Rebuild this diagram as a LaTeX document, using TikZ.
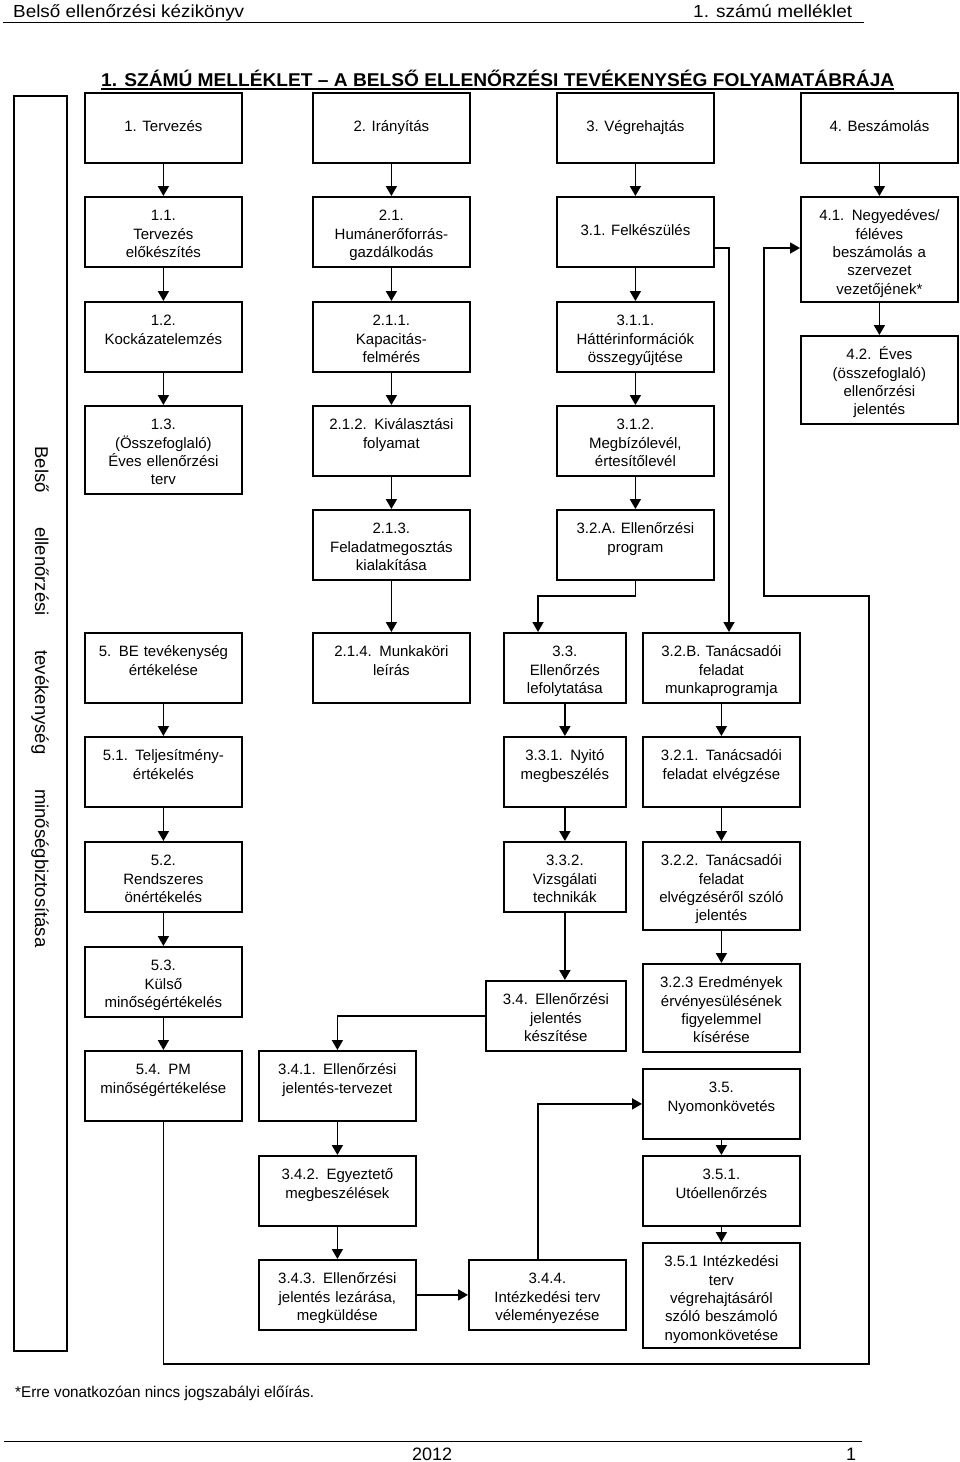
\documentclass[tikz,border=0pt]{standalone}
\usepackage{fontspec}
\setmainfont{Liberation Sans}
\usepackage{graphicx}
\usetikzlibrary{arrows.meta}

\tikzset{
  stepbox/.style={draw, line width=1.8pt, anchor=north west, inner sep=0pt,
    minimum width=157pt, text width=150pt, align=center,
    text height=24pt, text depth=46pt, font=\fontsize{15pt}{18.3pt}\selectfont},
  headbox/.style={draw, line width=1.8pt, anchor=north west, inner sep=0pt,
    minimum width=157pt, minimum height=70pt, text height=11pt, text depth=3pt,
    font=\fontsize{15pt}{18.3pt}\selectfont},
  tall/.style={text depth=64pt},
  taller/.style={text depth=81pt},
  narrow/.style={minimum width=122pt, text width=116pt},
  mid/.style={minimum width=140pt, text width=134pt},
  flow/.style={line width=1.8pt, -{Triangle[length=10pt,width=11pt]}},
  plain/.style={anchor=base west, inner sep=0pt},
}

\begin{document}
\begin{tikzpicture}[x=1pt, y=-1pt]
  \useasboundingbox (0,0) rectangle (960,1462);
  \node[plain] (hdl) at (13,17) {\resizebox{231pt}{\height}{\fontsize{17.5pt}{20pt}\selectfont Belső ellenőrzési kézikönyv}};
  \node[plain] (hdr) at (693,17) {\resizebox{159pt}{\height}{\fontsize{17.5pt}{20pt}\selectfont 1. számú melléklet}};
  \draw[line width=1pt] (3,22) -- (864,22);
  \node[plain] (title) at (101,86) {\resizebox{793pt}{\height}{\fontsize{18.5pt}{20pt}\selectfont\bfseries 1. SZÁMÚ MELLÉKLET – A BELSŐ ELLENŐRZÉSI TEVÉKENYSÉG FOLYAMATÁBRÁJA}};
  \draw[line width=1.3pt] ([yshift=-2.5pt]title.south west) -- ([yshift=-2.5pt]title.south east);

  \draw[line width=1.8pt] (14,96) rectangle (67,1351);
  \node[rotate=-90, inner sep=0pt, font=\fontsize{18.5pt}{20pt}\selectfont] (side) at (40,697)
    {\makebox[501pt][s]{Belső ellenőrzési tevékenység minőségbiztosítása}};

  \node[headbox] (1) at (84,92) {1. Tervezés};
  \node[headbox] (2) at (312,92) {2. Irányítás};
  \node[headbox] (3) at (556,92) {3. Végrehajtás};
  \node[headbox] (4) at (800,92) {4. Beszámolás};

  \node[stepbox] (11) at (84,196) {1.1.\\Tervezés\\előkészítés};
  \node[stepbox] (21) at (312,196) {2.1.\\Humánerőforrás-\\gazdálkodás};
  \node[headbox] (31) at (556,196) {3.1. Felkészülés};
  \node[stepbox, taller] (41) at (800,196) {4.1. Negyedéves/\\féléves\\beszámolás a\\szervezet\\vezetőjének*};

  \node[stepbox] (12) at (84,301) {1.2.\\Kockázatelemzés};
  \node[stepbox] (211) at (312,301) {2.1.1.\\Kapacitás-\\felmérés};
  \node[stepbox] (311) at (556,301) {3.1.1.\\Háttérinformációk\\összegyűjtése};
  \node[stepbox, tall] (42) at (800,335) {4.2. Éves\\(összefoglaló)\\ellenőrzési\\jelentés};

  \node[stepbox, tall] (13) at (84,405) {1.3.\\(Összefoglaló)\\Éves ellenőrzési\\terv};
  \node[stepbox] (212) at (312,405) {2.1.2. Kiválasztási\\folyamat};
  \node[stepbox] (312) at (556,405) {3.1.2.\\Megbízólevél,\\értesítőlevél};

  \node[stepbox] (213) at (312,509) {2.1.3.\\Feladatmegosztás\\kialakítása};
  \node[stepbox] (32A) at (556,509) {3.2.A. Ellenőrzési\\program};

  \node[stepbox] (5) at (84,632) {5. BE tevékenység\\értékelése};
  \node[stepbox] (214) at (312,632) {2.1.4. Munkaköri\\leírás};
  \node[stepbox, narrow] (33) at (503,632) {3.3.\\Ellenőrzés\\lefolytatása};
  \node[stepbox] (32B) at (642,632) {3.2.B. Tanácsadói\\feladat\\munkaprogramja};

  \node[stepbox] (51) at (84,736) {5.1. Teljesítmény-\\értékelés};
  \node[stepbox, narrow] (331) at (503,736) {3.3.1. Nyitó\\megbeszélés};
  \node[stepbox] (321) at (642,736) {3.2.1. Tanácsadói\\feladat elvégzése};

  \node[stepbox] (52) at (84,841) {5.2.\\Rendszeres\\önértékelés};
  \node[stepbox, narrow] (332) at (503,841) {3.3.2.\\Vizsgálati\\technikák};
  \node[stepbox, tall] (322) at (642,841) {3.2.2. Tanácsadói\\feladat\\elvégzéséről szóló\\jelentés};

  \node[stepbox] (53) at (84,946) {5.3.\\Külső\\minőségértékelés};
  \node[stepbox, mid] (34) at (485,980) {3.4. Ellenőrzési\\jelentés\\készítése};
  \node[stepbox, tall] (323) at (642,963) {3.2.3 Eredmények\\érvényesülésének\\figyelemmel\\kísérése};

  \node[stepbox] (54) at (84,1050) {5.4. PM\\minőségértékelése};
  \node[stepbox] (341) at (258,1050) {3.4.1. Ellenőrzési\\jelentés-tervezet};
  \node[stepbox] (35) at (642,1068) {3.5.\\Nyomonkövetés};

  \node[stepbox] (342) at (258,1155) {3.4.2. Egyeztető\\megbeszélések};
  \node[stepbox] (351) at (642,1155) {3.5.1.\\Utóellenőrzés};

  \node[stepbox] (343) at (258,1259) {3.4.3. Ellenőrzési\\jelentés lezárása,\\megküldése};
  \node[stepbox] (344) at (468,1259) {3.4.4.\\Intézkedési terv\\véleményezése};
  \node[stepbox, taller] (351i) at (642,1242) {3.5.1 Intézkedési\\terv\\végrehajtásáról\\szóló beszámoló\\nyomonkövetése};

  \coordinate (k1) at (729,248);
  \coordinate (k2) at (538,596);
  \coordinate (k3) at (538,0);
  \coordinate (r1) at (869,1364);
  \coordinate (r2) at (869,596);
  \coordinate (r3) at (764,596);
  \coordinate (r4) at (764,248);

  \begin{scope}[flow]
    \draw (1) to (11);
    \draw (11) to (12);
    \draw (12) to (13);
    \draw (2) to (21);
    \draw (21) to (211);
    \draw (211) to (212);
    \draw (212) to (213);
    \draw (213) to (214);
    \draw (3) to (31);
    \draw (31) to (311);
    \draw (311) to (312);
    \draw (312) to (32A);
    \draw (4) to (41);
    \draw (41) to (42);
    \draw (5) to (51);
    \draw (51) to (52);
    \draw (52) to (53);
    \draw (53) to (54);
    \draw (32A.south) |- (k2) -- (k2 |- 33.north);
    \draw (31.east |- k1) -| (k1 |- 32B.north);
    \draw (33) to (331);
    \draw (331) to (332);
    \draw (332.south) -- (332.south |- 34.north);
    \draw (32B) to (321);
    \draw (321) to (322);
    \draw (322) to (323);
    \draw (34.west) -| (341.north);
    \draw (341) to (342);
    \draw (342) to (343);
    \draw (343) to (344);
    \draw (k3 |- 344.north) |- (35.west);
    \draw (35) to (351);
    \draw (351) to (351i);
    \draw (54.south) |- (r1) -- (r2) -- (r3) -- (r4) -- (r4 -| 41.west);
  \end{scope}

  \node[plain] (note) at (15,1397) {\resizebox{299pt}{\height}{\fontsize{15.5pt}{18pt}\selectfont *Erre vonatkozóan nincs jogszabályi előírás.}};
  \draw[line width=0.8pt] (4,1441) -- (862,1441);
  \node[plain] (year) at (412,1460) {\fontsize{18pt}{20pt}\selectfont 2012};
  \node[plain] (page) at (846,1460) {\fontsize{18pt}{20pt}\selectfont 1};
\end{tikzpicture}
\end{document}
